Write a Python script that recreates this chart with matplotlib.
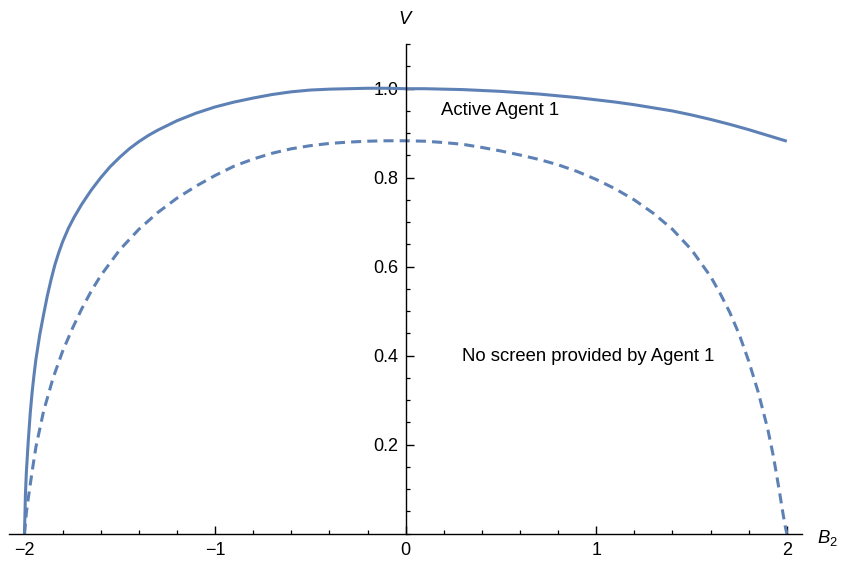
import matplotlib
matplotlib.use("Agg")
import matplotlib.pyplot as plt
from matplotlib.ticker import MultipleLocator, FixedLocator, FuncFormatter

plt.rcParams['font.family'] = ['Liberation Sans', 'DejaVu Sans']
plt.rcParams['mathtext.fontset'] = 'custom'
plt.rcParams['mathtext.it'] = 'Liberation Sans:italic'
plt.rcParams['mathtext.rm'] = 'Liberation Sans'

# Active Agent 1 (solid)
active_x = [-2.0, -1.995, -1.99, -1.98, -1.97, -1.96, -1.95, -1.94, -1.92, -1.9,
            -1.88, -1.86, -1.84, -1.82, -1.8, -1.77, -1.74, -1.7, -1.65, -1.6,
            -1.55, -1.5, -1.45, -1.4, -1.35, -1.3, -1.2, -1.1, -1.0, -0.9,
            -0.8, -0.7, -0.6, -0.5, -0.4, -0.3, -0.2, -0.1, 0.0, 0.1,
            0.2, 0.3, 0.4, 0.5, 0.6, 0.7, 0.8, 0.9, 1.0, 1.1,
            1.2, 1.3, 1.4, 1.5, 1.6, 1.7, 1.8, 1.9, 2.0]
active_y = [0.0, 0.09, 0.14, 0.21, 0.27, 0.318, 0.357, 0.392, 0.447, 0.492,
            0.535, 0.572, 0.605, 0.632, 0.656, 0.686, 0.711, 0.740, 0.772, 0.800,
            0.825, 0.846, 0.865, 0.881, 0.895, 0.907, 0.928, 0.945, 0.959, 0.970,
            0.979, 0.987, 0.993, 0.997, 0.999, 1.0, 1.001, 1.001, 1.0, 1.0,
            0.999, 0.998, 0.996, 0.994, 0.991, 0.988, 0.984, 0.980, 0.975, 0.970,
            0.964, 0.957, 0.950, 0.941, 0.931, 0.920, 0.908, 0.895, 0.882]

# No screen provided by Agent 1 (dashed)
noscreen_x = [-2.0, -1.99, -1.98, -1.96, -1.94, -1.9, -1.85, -1.8, -1.75, -1.7,
              -1.65, -1.6, -1.5, -1.4, -1.3, -1.2, -1.1, -1.0, -0.9, -0.8,
              -0.7, -0.6, -0.5, -0.4, -0.3, -0.2, -0.1, 0.0, 0.1, 0.2,
              0.3, 0.4, 0.5, 0.6, 0.7, 0.8, 0.9, 1.0, 1.1, 1.2,
              1.3, 1.4, 1.5, 1.6, 1.65, 1.7, 1.75, 1.8, 1.85, 1.9,
              1.93, 1.96, 1.98, 1.99, 2.0]
noscreen_y = [0.0, 0.048, 0.080, 0.140, 0.195, 0.275, 0.350, 0.410, 0.460, 0.505,
              0.545, 0.580, 0.638, 0.684, 0.722, 0.754, 0.781, 0.805, 0.826, 0.842,
              0.855, 0.865, 0.872, 0.877, 0.880, 0.882, 0.883, 0.883, 0.882, 0.879,
              0.875, 0.868, 0.860, 0.851, 0.841, 0.829, 0.814, 0.796, 0.775, 0.750,
              0.720, 0.684, 0.638, 0.578, 0.540, 0.498, 0.448, 0.388, 0.318, 0.235,
              0.173, 0.098, 0.045, 0.020, 0.0]

x_ticks = [-2, -1, 0, 1, 2]
y_ticks = [0.2, 0.4, 0.6, 0.8, 1.0]

color = '#5E81B5'

fig = plt.figure(figsize=(8.41, 5.61), dpi=100)
ax = fig.add_axes([0.011, 0.0487, 0.9427, 0.8725])

ax.plot(active_x, active_y, color=color, lw=2.2, solid_capstyle='butt',
        solid_joinstyle='round')
ax.plot(noscreen_x, noscreen_y, color=color, lw=2.2, dashes=(3.3, 2.0),
        dash_capstyle='butt', dash_joinstyle='round')

ax.set_xlim(-2.08, 2.08)
ax.set_ylim(0, 1.1)

for s in ['top', 'right']:
    ax.spines[s].set_visible(False)
ax.spines['left'].set_position(('data', 0))
ax.spines['bottom'].set_position(('data', 0))
ax.spines['left'].set_linewidth(1.0)
ax.spines['bottom'].set_linewidth(1.0)

ax.xaxis.set_major_locator(FixedLocator(x_ticks))
ax.xaxis.set_minor_locator(MultipleLocator(0.2))
ax.yaxis.set_major_locator(FixedLocator(y_ticks))
ax.yaxis.set_minor_locator(MultipleLocator(0.05))
ax.xaxis.set_major_formatter(FuncFormatter(lambda v, p: f"{int(v)}".replace('-', '\u2212')))
ax.yaxis.set_major_formatter(FuncFormatter(lambda v, p: f"{v:.1f}"))

ax.tick_params(axis='both', which='major', direction='in', length=5.5, width=1.0,
               labelsize=13, colors='black')
ax.tick_params(axis='both', which='minor', direction='in', length=3.2, width=0.9)
ax.tick_params(axis='x', which='major', pad=6)
ax.tick_params(axis='y', which='major', pad=5)

ax.text(0.184, 0.952, 'Active Agent 1', fontsize=13.3, va='center', ha='left')
ax.text(0.294, 0.398, 'No screen provided by Agent 1', fontsize=13.3, va='center', ha='left')

ax.annotate('$V$', xy=(0, 1.1), xytext=(0, 18), textcoords='offset points',
            ha='center', va='center', fontsize=13.3, annotation_clip=False)
ax.annotate('$B_2$', xy=(2.08, 0), xytext=(18, -3), textcoords='offset points',
            ha='center', va='center', fontsize=13.3, annotation_clip=False)

fig.savefig('out.png', dpi=100)
